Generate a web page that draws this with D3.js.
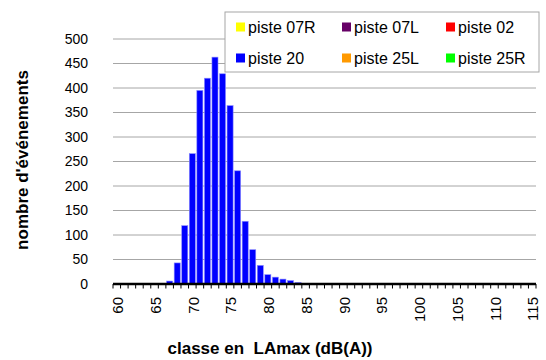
<!DOCTYPE html>
<html lang="fr">
<head>
<meta charset="UTF-8">
<title>LAmax</title>
<script src="https://cdn.jsdelivr.net/npm/d3@7"></script>
<style>
  body { margin: 0; background: #fff; }
  text { font-family: "Liberation Sans", Arial, sans-serif; fill: #000; }
</style>
</head>
<body>
<div class="chart"></div>
<script>
    // classes 60..115 dB(A)
    let classes = d3.range(60, 116)
    // nombre d'événements, piste 20 (les autres pistes sont vides)
    let piste20 = [0,0,0,0,0,0,0,6,43,119, 266,395,420,463,429,364,231,128,70,38, 19,14,10,7,3,1,0,0,0,0,
                   0,0,0,0,0,0,0,0,0,0, 0,0,0,0,0,0,0,0,0,0, 0,0,0,0,0,0]
    let yTicks = [0,50,100,150,200,250,300,350,400,450,500]
    let xLabels = [60,65,70,75,80,85,90,95,100,105,110,115]
    let seriesNames = ['piste 07R','piste 07L','piste 02','piste 20','piste 25L','piste 25R']
    let seriesColors = ['#ffff00','#660066','#ff0000','#0000ff','#ff9900','#00ff00']

    let width = 546, height = 360
    let margin = {left: 113, right: 10, top: 39, bottom: 76}

    let svg = d3.select('.chart').append('svg').attr('width', width).attr('height', height)

    let x = d3.scaleBand().domain(classes).range([margin.left, width - margin.right]).paddingInner(0.2).paddingOuter(0.1)
    let y = d3.scaleLinear().domain([0, 500]).range([height - margin.bottom, margin.top])

    // grid
    svg.append('g').selectAll('line').data(yTicks.slice(1)).join('line')
        .attr('x1', margin.left).attr('x2', width - margin.right)
        .attr('y1', d => y(d)).attr('y2', d => y(d))
        .attr('stroke', '#a6a6a6').attr('stroke-width', 1)

    // y labels
    svg.append('g').selectAll('text').data(yTicks).join('text')
        .attr('x', 88).attr('y', d => y(d)).attr('dy', '0.35em')
        .attr('text-anchor', 'end').style('font-size', '14px')
        .text(d => d)

    // bars
    svg.append('g').selectAll('rect').data(piste20.map((v, i) => ({c: classes[i], v: v})).filter(d => d.v > 0))
        .join('rect')
        .attr('x', d => x(d.c)).attr('width', x.bandwidth())
        .attr('y', d => y(d.v)).attr('height', d => y(0) - y(d.v))
        .attr('fill', '#0000ff').attr('stroke', '#8a8aff').attr('stroke-width', 0.6)

    // x axis
    let step = x.step()
    let ax = svg.append('g')
    ax.selectAll('line.tk').data(d3.range(classes.length + 1)).join('line')
        .attr('class', 'tk')
        .attr('x1', i => margin.left + i * step).attr('x2', i => margin.left + i * step)
        .attr('y1', y(0)).attr('y2', y(0) + 4.5)
        .attr('stroke', '#000').attr('stroke-width', 1)
    ax.append('line').attr('x1', margin.left).attr('x2', width - margin.right)
        .attr('y1', y(0)).attr('y2', y(0)).attr('stroke', '#000').attr('stroke-width', 2.5)
    ax.selectAll('text').data(xLabels).join('text')
        .attr('transform', d => 'translate(' + (x(d) + x.bandwidth() / 2 + 1) + ',' + (y(0) + 13) + ') rotate(-90)')
        .attr('dy', '0.35em').attr('text-anchor', 'end').style('font-size', '15px')
        .text(d => d)

    // titles
    svg.append('text').attr('x', 270).attr('y', 354).attr('text-anchor', 'middle')
        .style('font-size', '17px').style('font-weight', 'bold').style('white-space', 'pre')
        .text('classe en  LAmax (dB(A))')
    svg.append('text').attr('transform', 'translate(22,160) rotate(-90)').attr('dy', '0.35em')
        .attr('text-anchor', 'middle').style('font-size', '17px').style('font-weight', 'bold')
        .text("nombre d'événements")

    // legend
    let lg = svg.append('g')
    lg.append('rect').attr('x', 225).attr('y', 12).attr('width', 314).attr('height', 60)
        .attr('fill', '#fff').attr('stroke', '#a6a6a6')
    let colX = [236, 342, 446], rowY = [27, 58]
    seriesNames.forEach((n, i) => {
        let lx = colX[i % 3], ly = rowY[Math.floor(i / 3)]
        lg.append('rect').attr('x', lx).attr('y', ly - 4.5).attr('width', 9).attr('height', 9).attr('fill', seriesColors[i])
        lg.append('text').attr('x', lx + 12).attr('y', ly).attr('dy', '0.35em').style('font-size', '16px').text(n)
    })
</script>
</body>
</html>
